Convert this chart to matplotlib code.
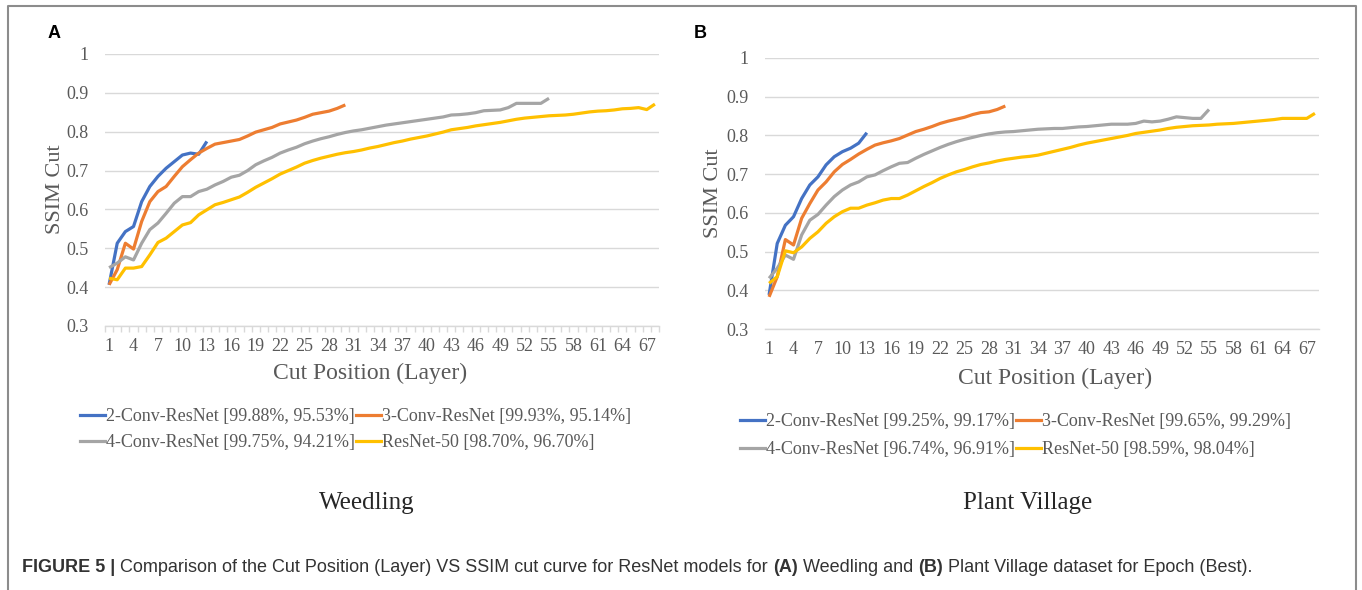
import numpy as np
import matplotlib
matplotlib.use("Agg")
import matplotlib.pyplot as plt
from matplotlib.lines import Line2D

plt.rcParams['font.family'] = ['Liberation Serif', 'DejaVu Serif']

# ---- data ----
series_names = ["2-Conv-ResNet", "3-Conv-ResNet", "4-Conv-ResNet", "ResNet-50"]
colors = ["#4472C4", "#ED7D31", "#A5A5A5", "#FFC000"]

weed_acc = ["[99.88%, 95.53%]", "[99.93%, 95.14%]", "[99.75%, 94.21%]", "[98.70%, 96.70%]"]
plant_acc = ["[99.25%, 99.17%]", "[99.65%, 99.29%]", "[96.74%, 96.91%]", "[98.59%, 98.04%]"]

weed_2conv = [0.406, 0.513, 0.543, 0.556, 0.620, 0.659, 0.685, 0.706, 0.723, 0.740,
              0.745, 0.742, 0.775]
weed_3conv = [0.406, 0.445, 0.513, 0.498, 0.569, 0.620, 0.646, 0.659, 0.685, 0.710,
              0.728, 0.745, 0.757, 0.768, 0.772, 0.776, 0.780, 0.789, 0.799, 0.805,
              0.811, 0.820, 0.825, 0.830, 0.837, 0.845, 0.849, 0.853, 0.860, 0.869]
weed_4conv = [0.450, 0.462, 0.478, 0.470, 0.513, 0.548, 0.565, 0.590, 0.616, 0.633,
              0.633, 0.646, 0.652, 0.663, 0.672, 0.683, 0.688, 0.700, 0.715, 0.725,
              0.734, 0.745, 0.753, 0.760, 0.769, 0.776, 0.782, 0.787, 0.793, 0.798,
              0.802, 0.805, 0.809, 0.813, 0.817, 0.820, 0.823, 0.826, 0.829, 0.832,
              0.835, 0.838, 0.843, 0.844, 0.846, 0.849, 0.854, 0.855, 0.856, 0.862,
              0.873, 0.873, 0.873, 0.873, 0.886]
weed_r50 = [0.423, 0.419, 0.449, 0.449, 0.453, 0.483, 0.515, 0.526, 0.543, 0.560,
            0.566, 0.586, 0.599, 0.612, 0.618, 0.625, 0.632, 0.644, 0.657, 0.668,
            0.679, 0.691, 0.700, 0.709, 0.719, 0.726, 0.732, 0.737, 0.742, 0.746,
            0.749, 0.753, 0.758, 0.762, 0.767, 0.772, 0.776, 0.781, 0.785, 0.789,
            0.794, 0.799, 0.805, 0.808, 0.811, 0.815, 0.818, 0.821, 0.824, 0.828,
            0.832, 0.835, 0.837, 0.839, 0.841, 0.842, 0.843, 0.845, 0.848, 0.851,
            0.853, 0.854, 0.856, 0.859, 0.860, 0.862, 0.857, 0.871]

plant_2conv = [0.388, 0.521, 0.568, 0.590, 0.637, 0.672, 0.693, 0.724, 0.745, 0.758,
               0.767, 0.780, 0.807]
plant_3conv = [0.383, 0.435, 0.531, 0.517, 0.586, 0.624, 0.659, 0.680, 0.706, 0.725,
               0.738, 0.752, 0.764, 0.775, 0.781, 0.786, 0.792, 0.801, 0.810, 0.816,
               0.823, 0.831, 0.837, 0.842, 0.847, 0.854, 0.859, 0.861, 0.867, 0.876]
plant_4conv = [0.431, 0.457, 0.491, 0.480, 0.543, 0.581, 0.596, 0.620, 0.642, 0.659,
               0.672, 0.680, 0.693, 0.698, 0.709, 0.719, 0.728, 0.730, 0.741, 0.751,
               0.760, 0.769, 0.777, 0.784, 0.790, 0.795, 0.800, 0.804, 0.807, 0.809,
               0.810, 0.812, 0.814, 0.816, 0.817, 0.818, 0.818, 0.820, 0.822, 0.823,
               0.825, 0.827, 0.829, 0.829, 0.829, 0.831, 0.837, 0.835, 0.837, 0.842,
               0.848, 0.846, 0.844, 0.844, 0.867]
plant_r50 = [0.418, 0.435, 0.502, 0.497, 0.512, 0.534, 0.551, 0.573, 0.590, 0.603,
             0.612, 0.612, 0.620, 0.626, 0.633, 0.637, 0.637, 0.646, 0.657, 0.668,
             0.678, 0.689, 0.698, 0.706, 0.712, 0.719, 0.725, 0.729, 0.734, 0.738,
             0.741, 0.744, 0.746, 0.749, 0.754, 0.759, 0.764, 0.769, 0.775, 0.780,
             0.784, 0.788, 0.792, 0.796, 0.800, 0.805, 0.808, 0.811, 0.814, 0.818,
             0.821, 0.823, 0.825, 0.826, 0.827, 0.829, 0.830, 0.831, 0.833, 0.835,
             0.837, 0.839, 0.841, 0.844, 0.844, 0.844, 0.844, 0.857]

n_layers = 68
xtick_vals = list(range(1, 68, 3))
ytick_vals = [0.3, 0.4, 0.5, 0.6, 0.7, 0.8, 0.9, 1.0]
ytick_labels = ["0.3", "0.4", "0.5", "0.6", "0.7", "0.8", "0.9", "1"]

TXT = "#595959"
GRID = "#D9D9D9"

fig = plt.figure(figsize=(13.62, 5.90), dpi=100)
W, H = 1362, 590


def px_axes(x0, y_top, x1, y_bot):
    return fig.add_axes([x0 / W, 1 - y_bot / H, (x1 - x0) / W, (y_bot - y_top) / H])


def draw_panel(ax, data, with_ticks):
    for y, c in zip(data, colors):
        x = np.arange(1, len(y) + 1)
        ax.plot(x, y, color=c, lw=2.3, solid_joinstyle='round', solid_capstyle='butt')
    ax.set_xlim(0.5, n_layers + 0.5)
    ax.set_ylim(0.3, 1.0)
    ax.set_yticks(ytick_vals)
    ax.set_yticklabels(ytick_labels)
    ax.set_xticks(xtick_vals)
    ax.set_xticklabels([str(v) for v in xtick_vals])
    ax.grid(axis='y', color=GRID, lw=1.0)
    ax.set_axisbelow(True)
    for s in ['top', 'right', 'left']:
        ax.spines[s].set_visible(False)
    ax.spines['bottom'].set_color(GRID)
    ax.spines['bottom'].set_linewidth(1.0)
    ax.tick_params(axis='both', which='major', length=0, labelsize=13, labelcolor=TXT)
    ax.tick_params(axis='y', pad=12)
    ax.tick_params(axis='x', pad=9)
    if with_ticks:
        ax.set_xticks(np.arange(0.5, n_layers + 1, 1), minor=True)
        ax.tick_params(axis='x', which='minor', length=4, color=GRID, width=1)


ax1 = px_axes(105, 54, 659, 326)
draw_panel(ax1, [weed_2conv, weed_3conv, weed_4conv, weed_r50], True)
ax2 = px_axes(765, 58, 1319, 329)
draw_panel(ax2, [plant_2conv, plant_3conv, plant_4conv, plant_r50], False)

# axis titles
fig.text(370 / W, 1 - 373 / H, "Cut Position (Layer)", fontsize=17, color=TXT, ha='center', va='center')
fig.text(1055 / W, 1 - 378 / H, "Cut Position (Layer)", fontsize=17, color=TXT, ha='center', va='center')
fig.text(55 / W, 1 - 189 / H, "SSIM Cut", fontsize=16, color=TXT, ha='center', va='center', rotation=90)
fig.text(713 / W, 1 - 193 / H, "SSIM Cut", fontsize=16, color=TXT, ha='center', va='center', rotation=90)

# legends: two entries per row (legend fills column by column, so reorder)
order = [0, 2, 1, 3]
for acc, (lx, ly, sp) in [(weed_acc, (80, 408, 0.5)), (plant_acc, (740, 413, 0.6))]:
    handles = [Line2D([], [], color=colors[i], lw=2.3) for i in order]
    labels = [series_names[i] + " " + acc[i] for i in order]
    fig.legend(handles, labels, loc='upper left', bbox_to_anchor=(lx / W, 1 - ly / H),
               ncol=2, frameon=False, fontsize=13, labelcolor=TXT,
               handlelength=1.4, handletextpad=0.05, columnspacing=0.05,
               labelspacing=sp, borderpad=0, borderaxespad=0)

# dataset names
fig.text(367 / W, 1 - 503 / H, "Weedling", fontsize=18, color="#262626", ha='center', va='center')
fig.text(1028 / W, 1 - 503 / H, "Plant Village", fontsize=18, color="#262626", ha='center', va='center')

# panel letters
fig.text(48 / W, 1 - 34 / H, "A", fontsize=13, fontweight='bold', family=['Liberation Sans', 'DejaVu Sans'],
         ha='left', va='center', color='black')
fig.text(694 / W, 1 - 34 / H, "B", fontsize=13, fontweight='bold', family=['Liberation Sans', 'DejaVu Sans'],
         ha='left', va='center', color='black')

# frame around the figure
frame_x = [8 / W, 8 / W, 1356 / W, 1356 / W]
frame_y = [0, 1 - 6 / H, 1 - 6 / H, 0]
fig.add_artist(Line2D(frame_x, frame_y, color="#8C8C8C", lw=1.5, transform=fig.transFigure))

# caption with bold parts
caption = [("FIGURE 5 | ", 'bold'),
           ("Comparison of the Cut Position (Layer) VS SSIM cut curve for ResNet models for ", 'normal'),
           ("(A)", 'bold'), (" Weedling and ", 'normal'), ("(B)", 'bold'),
           (" Plant Village dataset for Epoch (Best).", 'normal')]
renderer = fig.canvas.get_renderer()
cx = 22 / W
for s, w in caption:
    t = fig.text(cx, 1 - 567 / H, s, fontsize=13, fontweight=w, color="#333333",
                 family=['Liberation Sans', 'DejaVu Sans'], ha='left', va='center')
    cx += t.get_window_extent(renderer).width / W

fig.savefig("out.png", dpi=100)
